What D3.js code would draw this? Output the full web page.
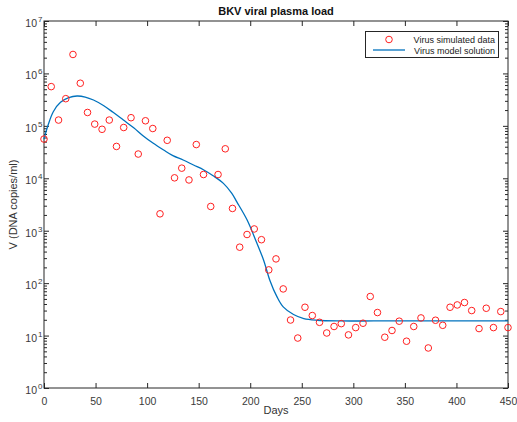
<!DOCTYPE html>
<html>
<head>
<meta charset="utf-8">
<script src="https://cdn.jsdelivr.net/npm/d3@7"></script>
<style>
  html, body { margin: 0; padding: 0; background: #fff; }
  svg { display: block; font-family: "Liberation Sans", Arial, Helvetica, sans-serif; }
</style>
</head>
<body>
<svg id="chart" width="517" height="422"></svg>
<script>
// Sampling days of the simulated observations
const dataDays = [0, 7.0, 14.1, 21.1, 28.1, 35.2, 42.2, 49.2, 56.3, 63.3, 70.3, 77.3, 84.4, 91.4, 98.4,
  105.5, 112.5, 119.5, 126.6, 133.6, 140.6, 147.7, 154.7, 161.7, 168.8, 175.8, 182.8, 189.8, 196.9,
  203.9, 210.9, 218.0, 225.0, 232.0, 239.1, 246.1, 253.1, 260.2, 267.2, 274.2, 281.3, 288.3, 295.3,
  302.3, 309.4, 316.4, 323.4, 330.5, 337.5, 344.5, 351.6, 358.6, 365.6, 372.7, 379.7, 386.7, 393.8,
  400.8, 407.8, 414.8, 421.9, 428.9, 435.9, 443.0, 450.0];

// Simulated viral load (DNA copies/ml)
const dataLoad = [5.6e4, 5.6e5, 1.29e5, 3.3e5, 2.3e6, 6.5e5, 1.8e5, 1.08e5, 8.6e4, 1.29e5, 4.05e4,
  9.3e4, 1.43e5, 2.9e4, 1.25e5, 8.9e4, 2.1e3, 5.3e4, 1.02e4, 1.56e4, 9.3e3, 4.4e4, 1.18e4, 2.9e3,
  1.18e4, 3.65e4, 2.66e3, 485, 847, 1080, 674, 179, 290, 77.6, 19.8, 8.97, 34.7, 24.1, 17.9, 11.2,
  14.9, 16.9, 10.3, 14.2, 17.2, 55.6, 27.5, 9.3, 12.5, 18.8, 7.8, 14.9, 21.7, 5.8, 19.6, 15.7, 34.7,
  38.4, 42.7, 30, 13.6, 33.2, 14.2, 28.7, 14.2];

// Model solution V(t)
const modelDays = [0, 4, 9, 16, 24, 32, 40, 48, 58, 67, 77, 87, 96, 106, 116, 125, 135, 145, 155, 164,
  174, 182, 187, 197, 206, 213, 219, 226, 232, 242, 252, 265, 287, 320, 360, 400, 450];
const modelLoad = [5.6e4, 1.04e5, 1.86e5, 2.81e5, 3.44e5, 3.71e5, 3.55e5, 3.11e5, 2.42e5, 1.81e5,
  1.29e5, 9.2e4, 6.5e4, 4.65e4, 3.46e4, 2.7e4, 2.23e4, 1.79e4, 1.44e4, 1.12e4, 8.0e3, 5.2e3, 3.55e3,
  1.6e3, 610, 274, 114, 54.6, 35.2, 25.2, 21.1, 19.6, 19, 19, 19, 19, 19];

const xTicks = [0, 50, 100, 150, 200, 250, 300, 350, 400, 450];
const yExponents = [0, 1, 2, 3, 4, 5, 6, 7];

const seriesNames = ["Virus simulated data", "Virus model solution"];
const titleText = "BKV viral plasma load";
const xLabel = "Days";
const yLabel = "V (DNA copies/ml)";

const axisColor = "#262626";
const markerColor = "#ff2020";
const lineColor = "#0072bd";

const svg = d3.select("#chart");
const plot = { left: 44, right: 508, top: 21, bottom: 388 };

const x = d3.scaleLinear().domain([0, 450]).range([plot.left, plot.right]);
const y = d3.scaleLog().domain([1, 1e7]).range([plot.bottom, plot.top]);

// Minor log ticks 2..9 within each decade
const minorTicks = [];
yExponents.slice(0, -1).forEach(e => {
  for (let m = 2; m <= 9; m++) minorTicks.push(m * Math.pow(10, e));
});

const axesG = svg.append("g");

// Bottom axis with labels, ticks pointing inward
const xAxisBottom = d3.axisBottom(x).tickValues(xTicks).tickSizeInner(-5).tickSizeOuter(0)
  .tickPadding(10).tickFormat(d3.format("d"));
axesG.append("g").attr("transform", `translate(0,${plot.bottom})`).call(xAxisBottom);

const xAxisTop = d3.axisTop(x).tickValues(xTicks).tickSizeInner(-5).tickSizeOuter(0).tickFormat("");
axesG.append("g").attr("transform", `translate(0,${plot.top})`).call(xAxisTop);

// Left / right log axes: major and minor ticks inward
const yMajor = yExponents.map(e => Math.pow(10, e));
const yAxisLeft = d3.axisLeft(y).tickValues(yMajor).tickSizeInner(-5).tickSizeOuter(0).tickFormat("");
axesG.append("g").attr("transform", `translate(${plot.left},0)`).call(yAxisLeft);
axesG.append("g").attr("transform", `translate(${plot.left},0)`)
  .call(d3.axisLeft(y).tickValues(minorTicks).tickSizeInner(-3).tickSizeOuter(0).tickFormat(""));

const yAxisRight = d3.axisRight(y).tickValues(yMajor).tickSizeInner(-5).tickSizeOuter(0).tickFormat("");
axesG.append("g").attr("transform", `translate(${plot.right},0)`).call(yAxisRight);
axesG.append("g").attr("transform", `translate(${plot.right},0)`)
  .call(d3.axisRight(y).tickValues(minorTicks).tickSizeInner(-3).tickSizeOuter(0).tickFormat(""));

axesG.selectAll(".domain").remove();
axesG.selectAll(".tick line").attr("stroke", axisColor).attr("stroke-width", 1);
axesG.selectAll(".tick text").attr("fill", "#3a3a3a").attr("font-size", 10.5)
  .attr("font-family", "Liberation Sans, Arial, sans-serif");

// Box around the axes
svg.append("rect")
  .attr("x", plot.left).attr("y", plot.top)
  .attr("width", plot.right - plot.left).attr("height", plot.bottom - plot.top)
  .attr("fill", "none").attr("stroke", axisColor).attr("stroke-width", 1);

// Power-of-ten labels on the left axis
const yLab = svg.append("g").attr("fill", "#3a3a3a").attr("font-size", 10.5);
yExponents.forEach(e => {
  const ty = y(Math.pow(10, e));
  yLab.append("text").attr("x", 37).attr("y", ty + 6).attr("text-anchor", "end").text("10");
  yLab.append("text").attr("x", 38).attr("y", ty + 1).attr("font-size", 8).text(String(e));
});

// Model curve
const line = d3.line()
  .x(d => x(d[0]))
  .y(d => y(d[1]))
  .curve(d3.curveCatmullRom.alpha(0.5));
svg.append("path")
  .datum(modelDays.map((d, i) => [d, modelLoad[i]]))
  .attr("d", line)
  .attr("fill", "none")
  .attr("stroke", lineColor)
  .attr("stroke-width", 1.3);

// Observations
svg.append("g").selectAll("circle")
  .data(dataDays.map((d, i) => [d, dataLoad[i]]))
  .join("circle")
  .attr("cx", d => x(d[0]))
  .attr("cy", d => y(d[1]))
  .attr("r", 3.3)
  .attr("fill", "none")
  .attr("stroke", markerColor)
  .attr("stroke-width", 1);

// Title and axis labels
svg.append("text").attr("x", (plot.left + plot.right) / 2).attr("y", 15)
  .attr("text-anchor", "middle").attr("font-weight", "bold").attr("font-size", 11)
  .attr("fill", "#111").text(titleText);
svg.append("text").attr("x", (plot.left + plot.right) / 2).attr("y", 414)
  .attr("text-anchor", "middle").attr("font-size", 11).attr("fill", "#333").text(xLabel);
svg.append("text")
  .attr("transform", `translate(16.5,${(plot.top + plot.bottom) / 2}) rotate(-90)`)
  .attr("text-anchor", "middle").attr("font-size", 11).attr("fill", "#333").text(yLabel);

// Legend
const lg = svg.append("g");
const lgBox = { x: 365.5, y: 31.5, w: 133, h: 26 };
lg.append("rect").attr("x", lgBox.x).attr("y", lgBox.y).attr("width", lgBox.w).attr("height", lgBox.h)
  .attr("fill", "#fff").attr("stroke", axisColor).attr("stroke-width", 1);
lg.append("circle").attr("cx", 389).attr("cy", 39.5).attr("r", 3.3)
  .attr("fill", "none").attr("stroke", markerColor).attr("stroke-width", 1);
lg.append("line").attr("x1", 373).attr("x2", 405).attr("y1", 50).attr("y2", 50)
  .attr("stroke", lineColor).attr("stroke-width", 1.3);
lg.append("text").attr("x", 495).attr("y", 42.5).attr("text-anchor", "end")
  .attr("font-size", 9).attr("fill", "#222").text(seriesNames[0]);
lg.append("text").attr("x", 495).attr("y", 53.5).attr("text-anchor", "end")
  .attr("font-size", 9).attr("fill", "#222").text(seriesNames[1]);
</script>
</body>
</html>
